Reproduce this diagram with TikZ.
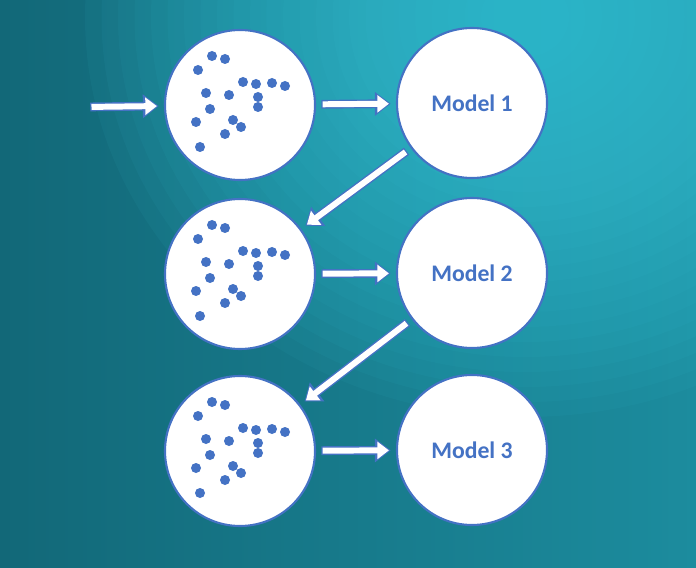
\documentclass[tikz,border=0pt]{standalone}
\usepackage{fontspec}
\setmainfont{Carlito}
\usetikzlibrary{arrows.meta}
\definecolor{ringblue}{RGB}{68,114,196}
\definecolor{tealdark}{RGB}{18,104,120}
\definecolor{tealmid}{RGB}{28,140,158}
\definecolor{teallight}{RGB}{60,205,225}
\tikzset{
  pool/.style={circle,draw=ringblue,line width=1.2pt,fill=white,minimum size=3cm,inner sep=0pt},
  model/.style={pool,font=\bfseries\fontsize{13.5}{16}\selectfont,text=ringblue},
  conn/.style={line width=5pt,draw=ringblue,shorten <=3pt,shorten >=3pt,
    -{Triangle[length=9pt,width=13pt]},
    postaction={draw=white,line width=3.4pt,shorten <=3.7pt,shorten >=4pt,
      -{Triangle[length=6.6pt,width=9.6pt]}}}
}
\newcommand\pts{%
  \foreach \px/\py in {212/56,225/59,198/70,243/82,256/84,272/83,285/86,206/93,229/95,
    258/97,210/109,258/107,233/120,196/122,241/127,225/134,200/147}
    {\fill[ringblue] (\px/50-240/50,-\py/50+105/50) circle (0.1);}}
\begin{document}
\begin{tikzpicture}
  \useasboundingbox (0,0) rectangle (13.92,11.34);
  \begin{scope}
    \clip (0,0) rectangle (13.92,11.34);
    \shade[left color=tealdark,right color=tealmid] (0,0) rectangle (13.92,11.34);
    % soft glow, top right
    \foreach \r in {8,7.7,...,0.5}
      \fill[teallight,opacity=0.055] (10.5,11) ellipse ({\r*1.1} and \r);
  \end{scope}

  \node (p1) [pool] at (4.8,9.24) {};
  \node (p2) [pool] at (4.8,5.86) {};
  \node (p3) [pool] at (4.8,2.32) {};
  \node (m1) [model] at (9.44,9.28) {Model 1};
  \node (m2) [model] at (9.44,5.88) {Model 2};
  \node (m3) [model] at (9.44,2.34) {Model 3};
  \foreach \p in {p1,p2,p3}
    \begin{scope}[shift={(\p.center)}]\pts\end{scope};

  \coordinate (in) at (1.7,9.2);
  \draw[conn] (in) -- (p1);
  \draw[conn] (p1) -- (m1);
  \draw[conn] (m1) -- (p2);
  \draw[conn] (p2) -- (m2);
  \draw[conn] (m2) -- (p3);
  \draw[conn] (p3) -- (m3);
\end{tikzpicture}
\end{document}
